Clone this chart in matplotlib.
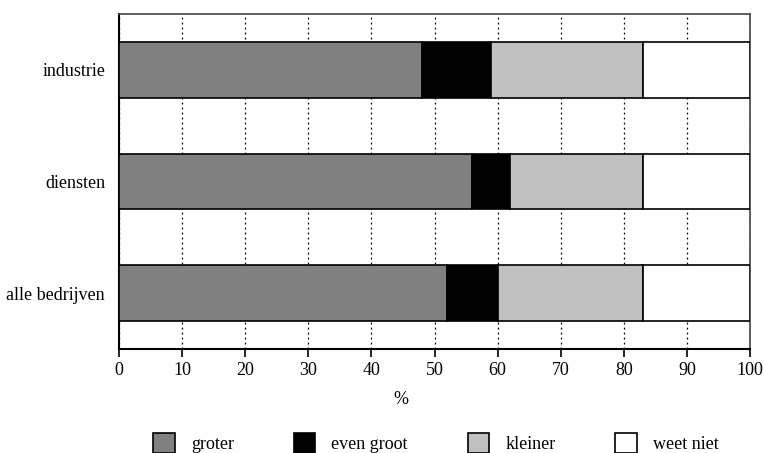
import matplotlib.pyplot as plt
import numpy as np

plt.rcParams['font.family'] = 'Liberation Serif'
plt.rcParams['font.size'] = 13

# gegevens (aflezen uit de figuur, in %)
categorieen = ['alle bedrijven', 'diensten', 'industrie']
groter = [52, 56, 48]
even_groot = [8, 6, 11]
kleiner = [23, 21, 24]
weet_niet = [17, 17, 17]

reeksen = [('groter', groter, '#808080'),
           ('even groot', even_groot, '#000000'),
           ('kleiner', kleiner, '#c0c0c0'),
           ('weet niet', weet_niet, '#ffffff')]

fig = plt.figure(figsize=(7.64, 4.53), dpi=100)
ax = fig.add_axes([119/764, 1-349/453, 631/764, 335/453])

y = np.arange(len(categorieen))
links = np.zeros(len(categorieen))
handles = []
for naam, waarden, kleur in reeksen:
    h = ax.barh(y, waarden, left=links, height=0.5, color=kleur,
                edgecolor='black', linewidth=1.2, label=naam, zorder=3)
    handles.append(h)
    links += np.array(waarden)

ax.set_xlim(0, 100)
ax.set_ylim(-0.5, 2.5)
ax.set_xticks(np.arange(0, 101, 10))
ax.set_yticks(y)
ax.set_yticklabels(categorieen)
ax.tick_params(axis='y', length=0, pad=10)
ax.tick_params(axis='x', length=6, width=1.2, direction='out')
ax.grid(axis='x', linestyle=(0, (1.5, 2.5)), color='black', linewidth=0.9, zorder=0)

for s in ['left', 'bottom']:
    ax.spines[s].set_linewidth(1.5)
for s in ['top', 'right']:
    ax.spines[s].set_linewidth(1.2)
    ax.spines[s].set_color('#444444')

ax.set_xlabel('%')
ax.xaxis.set_label_coords((401-119)/631, -0.125)

fig.legend(handles=handles, loc='center', bbox_to_anchor=(436/764, 1-443/453),
           ncol=4, frameon=False, handlelength=1.2, handleheight=1.3,
           columnspacing=3.3, handletextpad=0.9)

fig.savefig('out.png', dpi=100)
